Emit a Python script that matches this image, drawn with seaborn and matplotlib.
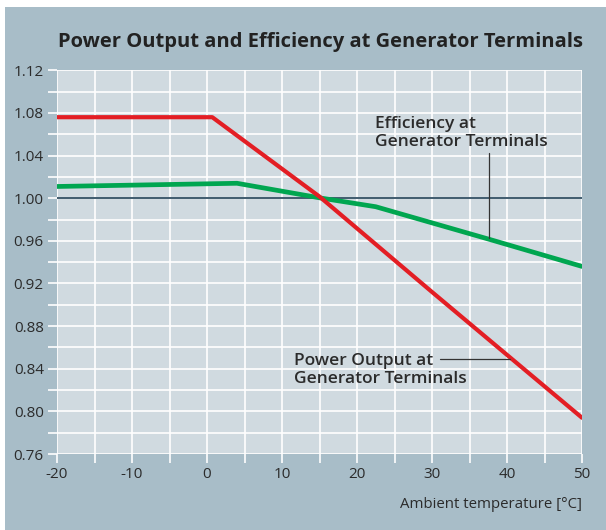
"""
Power output and efficiency at generator terminals vs. ambient temperature.
"""

import matplotlib
matplotlib.use("Agg")
import matplotlib.pyplot as plt
from matplotlib.patches import Rectangle
from matplotlib.ticker import MultipleLocator, FormatStrFormatter
import seaborn as sns

# Data
power_temp = [-20, 0.7, 15.0, 30.0, 50.0]
power_output = [1.076, 1.076, 1.0015, 0.912, 0.794]

eff_temp = [-20, 4.0, 15.3, 22.5, 37.6, 50.0]
efficiency = [1.011, 1.014, 1.000, 0.992, 0.9615, 0.936]

reference_level = 1.0

title = "Power Output and Efficiency at Generator Terminals"
xlabel = "Ambient temperature [°C]"

panel_color = "#a8bdc8"
plot_color = "#d0dae0"
text_color = "#2b2b2b"

sns.set_style("whitegrid", {
    "axes.facecolor": plot_color,
    "grid.color": "white",
    "axes.edgecolor": "white",
})
plt.rcParams["font.family"] = ["Open Sans", "DejaVu Sans"]
plt.rcParams["axes.unicode_minus"] = False

fig = plt.figure(figsize=(6.06, 5.30), dpi=100, facecolor="white")
# coloured panel behind the chart (white strip on top and left)
fig.patches.append(Rectangle((5 / 606, 0), 1, 523 / 530, transform=fig.transFigure,
                             facecolor=panel_color, edgecolor="none", zorder=-10))

ax = fig.add_axes([57 / 606, 1 - 454 / 530, 525 / 606, (454 - 70.3) / 530])

sns.lineplot(x=power_temp, y=power_output, color="#e31e24", linewidth=3.0, ax=ax, zorder=4)
sns.lineplot(x=eff_temp, y=efficiency, color="#00a650", linewidth=3.4, ax=ax, zorder=3)
ax.axhline(reference_level, color="#3f5b6e", linewidth=1.4, zorder=2)

ax.set_xlim(-20, 50)
ax.set_ylim(0.76, 1.12)
ax.xaxis.set_major_locator(MultipleLocator(10))
ax.xaxis.set_minor_locator(MultipleLocator(5))
ax.yaxis.set_major_locator(MultipleLocator(0.04))
ax.yaxis.set_minor_locator(MultipleLocator(0.02))
ax.yaxis.set_major_formatter(FormatStrFormatter("%.2f"))

ax.grid(which="both", color="white", linewidth=1.2)
ax.tick_params(which="both", direction="out", length=6.5, width=1.2, color="white",
               labelsize=11, labelcolor=text_color, left=True, bottom=True)
ax.tick_params(axis="y", pad=3)
ax.tick_params(axis="x", pad=3)
for side in ax.spines.values():
    side.set_visible(False)

ax.set_xlabel(xlabel, loc="right", fontsize=10.8, color=text_color, labelpad=11)
ax.set_ylabel("")

fig.text(583 / 606, 1 - 42 / 530, title, ha="right", va="center",
         fontsize=14.5, fontweight="bold", color="#222222")

# labels with pointer lines
ax.text(22.4, 1.077, "Efficiency at\nGenerator Terminals", ha="left", va="top",
        fontsize=12.5, fontweight="semibold", color=text_color, linespacing=1.15)
ax.plot([37.6, 37.6], [1.042, 0.963], color="#333333", linewidth=0.9, zorder=5)

ax.text(11.6, 0.855, "Power Output at\nGenerator Terminals", ha="left", va="top",
        fontsize=12.5, fontweight="semibold", color=text_color, linespacing=1.15)
ax.plot([31.1, 40.4], [0.849, 0.849], color="#333333", linewidth=0.9, zorder=5)

plt.savefig("out.png", dpi=100, facecolor="white")
